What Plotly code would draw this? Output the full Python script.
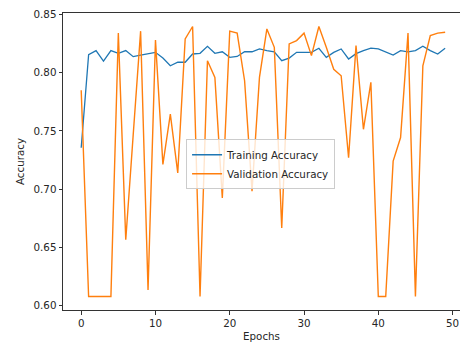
import plotly.graph_objects as go

epochs = list(range(50))
train_acc = [0.7356, 0.8155, 0.8190, 0.8100, 0.8190, 0.8166, 0.8190, 0.8138, 0.8152, 0.8161,
             0.8175, 0.8126, 0.8060, 0.8090, 0.8090, 0.8161, 0.8167, 0.8227, 0.8167, 0.8180,
             0.8132, 0.8140, 0.8180, 0.8180, 0.8204, 0.8190, 0.8180, 0.8103, 0.8126, 0.8175,
             0.8175, 0.8175, 0.8210, 0.8132, 0.8175, 0.8204, 0.8118, 0.8164, 0.8190, 0.8212,
             0.8204, 0.8180, 0.8152, 0.8190, 0.8180, 0.8190, 0.8227, 0.8190, 0.8161, 0.8210]
val_acc = [0.7850, 0.6078, 0.6078, 0.6078, 0.6078, 0.8340, 0.6566, 0.7465, 0.8357, 0.6135,
           0.8280, 0.7213, 0.7644, 0.7140, 0.8290, 0.8397, 0.6078, 0.8103, 0.7960, 0.6925,
           0.8357, 0.8340, 0.7931, 0.6983, 0.7960, 0.8376, 0.8218, 0.6667, 0.8247, 0.8276,
           0.8340, 0.8147, 0.8397, 0.8218, 0.8030, 0.7974, 0.7270, 0.8233, 0.7514, 0.7917,
           0.6078, 0.6078, 0.7241, 0.7443, 0.8340, 0.6078, 0.8060, 0.8319, 0.8340, 0.8348]
y_ticks = [0.60, 0.65, 0.70, 0.75, 0.80, 0.85]
x_ticks = [0, 10, 20, 30, 40, 50]

font = "DejaVu Sans"
fig = go.Figure()
fig.add_trace(go.Scatter(x=epochs, y=train_acc, mode="lines", name="Training Accuracy",
                         line=dict(color="#1f77b4", width=1.3)))
fig.add_trace(go.Scatter(x=epochs, y=val_acc, mode="lines", name="Validation Accuracy",
                         line=dict(color="#ff7f0e", width=1.4)))

axis_common = dict(showgrid=False, zeroline=False, showline=True, linecolor="#333333",
                   linewidth=1, ticks="outside", ticklen=3.5, tickwidth=0.8, tickcolor="#333333",
                   tickfont=dict(family=font, size=10.3, color="#262626"))
fig.update_xaxes(range=[-2.45, 51.0], tickvals=x_ticks, ticktext=[str(v) for v in x_ticks],
                 mirror=True,
                 title=dict(text="Epochs", font=dict(family=font, size=10.3, color="#262626"), standoff=4),
                 **axis_common)
fig.update_yaxes(range=[0.5962, 0.8513], tickvals=y_ticks, ticktext=[f"{v:.2f}" for v in y_ticks],
                 title=dict(text="Accuracy", font=dict(family=font, size=10.3, color="#262626"), standoff=6),
                 **axis_common)
fig.update_layout(
    width=460, height=345,
    margin=dict(l=63, r=0, t=13, b=35),
    paper_bgcolor="white", plot_bgcolor="white",
    legend=dict(x=0.31, y=0.575, xanchor="left", yanchor="top",
                bgcolor="rgba(255,255,255,0.8)", bordercolor="#cccccc", borderwidth=1,
                font=dict(family=font, size=10.3, color="#262626"), itemwidth=30,
                tracegroupgap=0),
)
fig.write_html("out.html")
